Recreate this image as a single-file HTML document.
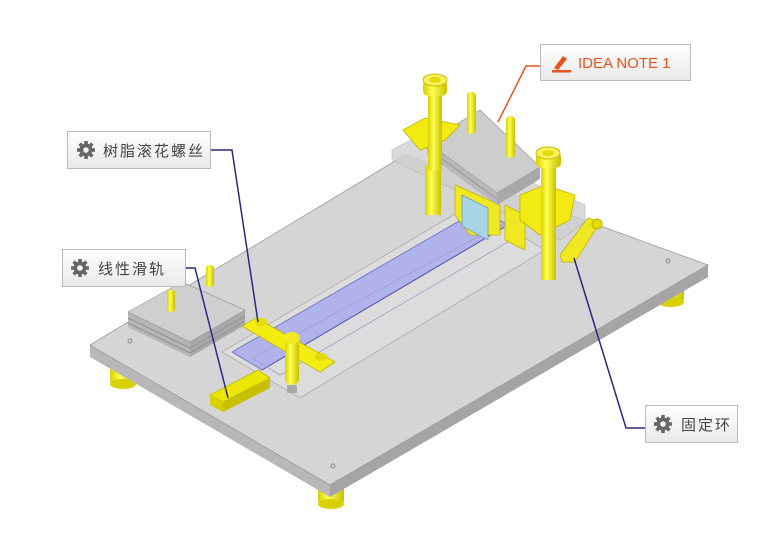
<!DOCTYPE html>
<html><head><meta charset="utf-8"><style>
body{margin:0;background:#fff;}
svg{display:block}
text{font-family:"Liberation Sans","Noto Sans CJK SC",sans-serif;}
</style></head><body>
<svg width="762" height="547" viewBox="0 0 762 547" xmlns="http://www.w3.org/2000/svg">
<defs>
<linearGradient id="lb" x1="0" y1="0" x2="0" y2="1"><stop offset="0" stop-color="#ffffff"/><stop offset="1" stop-color="#e9e9e9"/></linearGradient>
<linearGradient id="yc" x1="0" y1="0" x2="1" y2="0"><stop offset="0" stop-color="#d8d000"/><stop offset="0.4" stop-color="#ffff50"/><stop offset="1" stop-color="#c8c000"/></linearGradient>
<g id="gear"><circle r="6.5" fill="#666"/><circle r="2.6" fill="#f4f4f4"/>
<g fill="#666"><rect x="-1.8" y="-9" width="3.6" height="18"/><rect x="-1.8" y="-9" width="3.6" height="18" transform="rotate(45)"/><rect x="-1.8" y="-9" width="3.6" height="18" transform="rotate(90)"/><rect x="-1.8" y="-9" width="3.6" height="18" transform="rotate(135)"/></g><circle r="2.8" fill="#f4f4f4"/></g>
</defs>

<!-- feet -->
<g fill="url(#yc)">
<rect x="110" y="360" width="26" height="24" rx="4"/><ellipse cx="123" cy="384" rx="13" ry="5" fill="#d8d000"/>
<rect x="318" y="480" width="26" height="24" rx="4"/><ellipse cx="331" cy="504" rx="13" ry="5" fill="#d8d000"/>
<rect x="658" y="282" width="26" height="20" rx="4"/><ellipse cx="671" cy="302" rx="13" ry="5" fill="#d8d000"/>
</g>

<!-- base plate -->
<polygon points="90,345 330,485 330,497 90,357" fill="#b8b8b8"/>
<polygon points="330,485 708,265 708,277 330,497" fill="#a5a5a5"/>
<polygon points="90,345 405,155 708,265 330,485" fill="#d5d5d5" stroke="#9a9a9a" stroke-width="0.8"/>
<circle cx="130" cy="341" r="2" fill="none" stroke="#888"/>
<circle cx="333" cy="466" r="2" fill="none" stroke="#888"/>
<circle cx="668" cy="261" r="2" fill="none" stroke="#888"/>

<!-- left stack -->
<polygon points="128,312 190,342 190,357 128,327" fill="#b5b5b5"/>
<polygon points="190,342 245,310 245,325 190,357" fill="#a8a8a8"/>
<polygon points="128,312 182,282 245,310 190,342" fill="#cfcfcf" stroke="#999" stroke-width="0.7"/>
<g stroke="#888" stroke-width="0.7"><line x1="128" y1="318" x2="190" y2="348"/><line x1="128" y1="323" x2="190" y2="353"/><line x1="190" y1="348" x2="245" y2="316"/><line x1="190" y1="353" x2="245" y2="321"/></g>
<rect x="167" y="290" width="8" height="22" fill="url(#yc)" rx="3"/>
<rect x="206" y="265" width="8" height="22" fill="url(#yc)" rx="3"/>

<!-- slot frame -->
<polygon points="222,352 300,398 545,250 470,205" fill="#dcdcdc" stroke="#aaa" stroke-width="0.8"/>
<polygon points="232,352 262,370 508,225 480,209" fill="#b0b2ec" stroke="#6a6cc0" stroke-width="0.8"/>
<line x1="262" y1="370" x2="508" y2="225" stroke="#5557aa" stroke-width="1"/>
<polygon points="252,358 280,375 520,235 500,225" fill="none" stroke="#9da0c8" stroke-width="0.8"/>

<!-- clamp bars -->
<polygon points="242,326 256,318 335,362 320,372" fill="#f2ec10" stroke="#bdb500" stroke-width="0.8"/>
<ellipse cx="261" cy="322" rx="6" ry="4" fill="#e4dc00"/>
<ellipse cx="321" cy="357" rx="6" ry="4" fill="#e4dc00"/>
<rect x="285" y="340" width="14" height="45" rx="6" fill="url(#yc)"/>
<ellipse cx="292" cy="338" rx="8" ry="6" fill="#f0ea20"/>
<rect x="287" y="385" width="10" height="8" fill="#aaa"/>
<!-- rail -->
<polygon points="210,395 223,402 270,378 258,370" fill="#ece600" stroke="#bdb500" stroke-width="0.8"/>
<polygon points="210,395 223,402 223,412 210,405" fill="#d8d000"/>
<polygon points="223,402 270,378 270,388 223,412" fill="#c8c000"/>

<!-- top assembly -->
<polygon points="392,150 420,135 585,205 585,222 560,240 392,160" fill="#d0d0d0" stroke="#aaa" stroke-width="0.6" opacity="0.8"/>
<rect x="425" y="165" width="16" height="50" fill="url(#yc)"/>
<polygon points="455,185 500,205 500,235 470,235 455,215" fill="#f0e820" stroke="#bdb500" stroke-width="0.8"/>
<polygon points="462,195 488,208 488,240 462,226" fill="#a8d4e6" stroke="#6a9ab0" stroke-width="0.7"/>
<polygon points="505,205 525,215 525,250 505,240" fill="#f0e820" stroke="#bdb500" stroke-width="0.8"/>
<!-- gray block -->
<polygon points="427,142 497,193 497,205 427,154" fill="#b8b8b8"/>
<polygon points="497,193 540,167 540,179 497,205" fill="#a8a8a8"/>
<polygon points="427,142 480,110 540,167 497,193" fill="#cdcdcd" stroke="#999" stroke-width="0.7"/>
<line x1="427" y1="148" x2="497" y2="199" stroke="#888" stroke-width="0.7"/>
<!-- left post -->
<path d="M403 130 L425 118 L460 125 L445 140 L420 150 Z" fill="#f2ea10" stroke="#bdb500" stroke-width="0.8"/>
<rect x="428" y="90" width="14" height="80" fill="url(#yc)"/>
<rect x="423" y="80" width="24" height="16" rx="5" fill="url(#yc)"/>
<ellipse cx="435" cy="80" rx="12" ry="6" fill="#f8f060" stroke="#c8c000"/>
<ellipse cx="435" cy="80" rx="6" ry="3" fill="#e4dc00"/>
<!-- pins -->
<rect x="467" y="92" width="9" height="42" rx="4" fill="url(#yc)"/>
<rect x="506" y="116" width="9" height="42" rx="4" fill="url(#yc)"/>
<!-- right post -->
<path d="M520 195 L545 185 L575 195 L570 220 L540 235 L520 220 Z" fill="#f2ea10" stroke="#bdb500" stroke-width="0.8"/>
<rect x="541" y="165" width="15" height="115" fill="url(#yc)"/>
<rect x="536" y="152" width="25" height="16" rx="5" fill="url(#yc)"/>
<ellipse cx="548" cy="153" rx="12" ry="6" fill="#f8f060" stroke="#c8c000"/>
<ellipse cx="548" cy="153" rx="6" ry="3" fill="#e4dc00"/>
<!-- lever -->
<path d="M560 255 L588 218 L600 222 L575 262 L562 262 Z" fill="#f0e820" stroke="#bdb500" stroke-width="0.8"/>
<circle cx="597" cy="224" r="5" fill="#e4dc00" stroke="#bdb500"/>

<!-- leaders -->
<polyline points="540,66 526,66 498,122" fill="none" stroke="#e8541e" stroke-width="1.5"/>
<polyline points="210,150 232,150 258,322" fill="none" stroke="#2a2a80" stroke-width="1.5"/>
<polyline points="185,268 195,268 228,398" fill="none" stroke="#2a2a80" stroke-width="1.5"/>
<polyline points="645,428 626,428 574,258" fill="none" stroke="#2a2a80" stroke-width="1.5"/>

<!-- labels -->
<rect x="540.5" y="44.5" width="150" height="36" fill="url(#lb)" stroke="#bbb"/>
<path d="M554 68 L563 56 L567 59 L558 70 Z" fill="#e8541e"/><rect x="552" y="70" width="19" height="2.5" fill="#e8541e"/>
<text x="578" y="68" font-size="15" fill="#e8541e">IDEA NOTE 1</text>

<rect x="67.5" y="131.5" width="143" height="37" fill="url(#lb)" stroke="#bbb"/>
<use href="#gear" x="86" y="150"/>
<text x="103" y="156" font-size="15" fill="#444" letter-spacing="2">树脂滚花螺丝</text>

<rect x="62.5" y="249.5" width="123" height="37" fill="url(#lb)" stroke="#bbb"/>
<use href="#gear" x="80" y="268"/>
<text x="98" y="274" font-size="15" fill="#444" letter-spacing="2">线性滑轨</text>

<rect x="645.5" y="405.5" width="92" height="37" fill="url(#lb)" stroke="#bbb"/>
<use href="#gear" x="663" y="424"/>
<text x="681" y="430" font-size="15" fill="#444" letter-spacing="2">固定环</text>
</svg>
</body></html>
